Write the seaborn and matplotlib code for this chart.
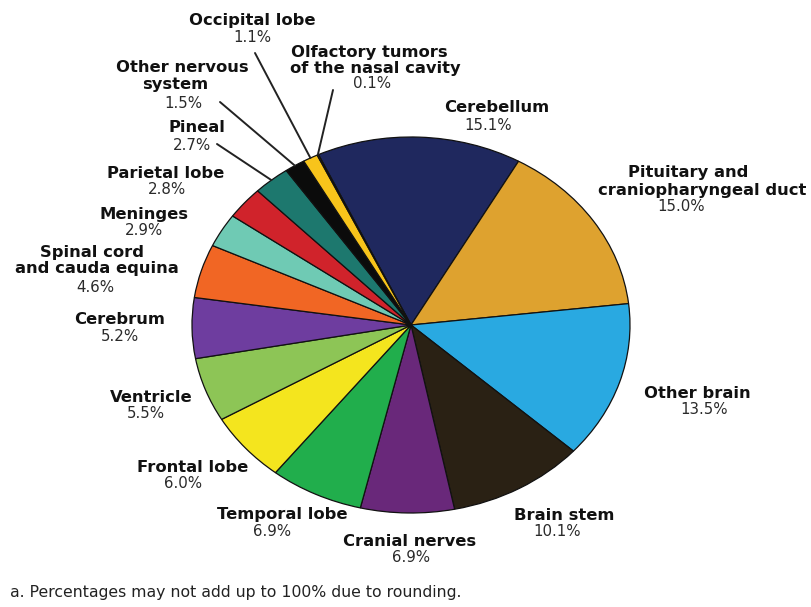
import matplotlib
matplotlib.use("Agg")
import matplotlib.pyplot as plt
import seaborn as sns
import numpy as np

# ---------------- data ----------------
categories = ["Cerebellum", "Pituitary and craniopharyngeal duct", "Other brain",
              "Brain stem", "Cranial nerves", "Temporal lobe", "Frontal lobe",
              "Ventricle", "Cerebrum", "Spinal cord and cauda equina", "Meninges",
              "Parietal lobe", "Pineal", "Other nervous system", "Occipital lobe",
              "Olfactory tumors of the nasal cavity"]
percentages = [15.1, 15.0, 13.5, 10.1, 6.9, 6.9, 6.0, 5.5, 5.2, 4.6, 2.9, 2.8,
               2.7, 1.5, 1.1, 0.1]
name_lines = [["Cerebellum"], ["Pituitary and", "craniopharyngeal duct"],
              ["Other brain"], ["Brain stem"], ["Cranial nerves"],
              ["Temporal lobe"], ["Frontal lobe"], ["Ventricle"], ["Cerebrum"],
              ["Spinal cord", "and cauda equina"], ["Meninges"],
              ["Parietal lobe"], ["Pineal"], ["Other nervous", "system"],
              ["Occipital lobe"], ["Olfactory tumors", "of the nasal cavity"]]
footnote = "a. Percentages may not add up to 100% due to rounding."

# ---------------- style ----------------
slice_colors = ["#1f285e", "#dea22f", "#29a9e1", "#2a2114", "#69287a", "#21ae4c",
                "#f4e51e", "#8dc556", "#6e3d9f", "#f16624", "#6fcab4", "#d0232b",
                "#1d786e", "#0b0b0b", "#f8c41b", "#f8c41b"]

# label line centres in pixels (x, y from top): name lines then percentage line
label_pos = [
    [(497, 107), (488, 125)],
    [(688, 173), (702, 190), (681, 207)],
    [(697, 393), (704, 410)],
    [(564, 515), (557, 532)],
    [(410, 541), (411, 558)],
    [(282, 515), (272, 532)],
    [(193, 467), (183, 484)],
    [(151, 397), (146, 414)],
    [(120, 320), (120, 337)],
    [(92, 253), (97, 269), (95, 287)],
    [(144, 215), (144, 231)],
    [(166, 173), (167, 190)],
    [(197, 128), (192, 145)],
    [(182, 68), (175, 85), (183, 103)],
    [(252, 21), (252, 38)],
    [(369, 52), (375, 68), (372, 83)],
]
# leader lines: index -> start point (pixels from top-left)
leaders = {14: (255, 53), 15: (333, 90), 13: (220, 102), 12: (217, 144)}

W, H = 811, 607
sns.set_theme(style="white")
plt.rcParams["font.family"] = ["DejaVu Sans"]

fig = plt.figure(figsize=(W / 100, H / 100), dpi=100)
fig.patch.set_facecolor("white")

cx, cy, rx, ry = 411, 325, 219, 188
ax = fig.add_axes([(cx - rx) / W, (H - cy - ry) / H, 2 * rx / W, 2 * ry / H])
palette = sns.color_palette(slice_colors)
wedges, _ = ax.pie(percentages, colors=palette, startangle=115, counterclock=False,
                   wedgeprops=dict(edgecolor="#111111", linewidth=0.9))
ax.set_aspect("auto")
ax.set_xlim(-1, 1)
ax.set_ylim(-1, 1)
ax.axis("off")

for i, (lines, pos) in enumerate(zip(name_lines, label_pos)):
    for j, line in enumerate(lines):
        x, y = pos[j]
        fig.text(x / W, 1 - y / H, line, ha="center", va="center",
                 fontsize=11.8, fontweight="bold", color="#111111")
    x, y = pos[-1]
    fig.text(x / W, 1 - y / H, f"{percentages[i]:.1f}%", ha="center", va="center",
             fontsize=10.8, color="#2a2a2a")

for i, (sx, sy) in leaders.items():
    w = wedges[i]
    a = np.deg2rad((w.theta1 + w.theta2) / 2)
    ax.annotate("", xy=(np.cos(a), np.sin(a)), xycoords="data",
                xytext=(sx, H - sy), textcoords="figure pixels",
                arrowprops=dict(arrowstyle="-", color="#222222", lw=1.4,
                                shrinkA=0, shrinkB=0),
                annotation_clip=False)

fig.text(10 / W, 1 - 592 / H, footnote, ha="left", va="center",
         fontsize=11.3, color="#222222")

fig.savefig("out.png", dpi=100, facecolor="white")
